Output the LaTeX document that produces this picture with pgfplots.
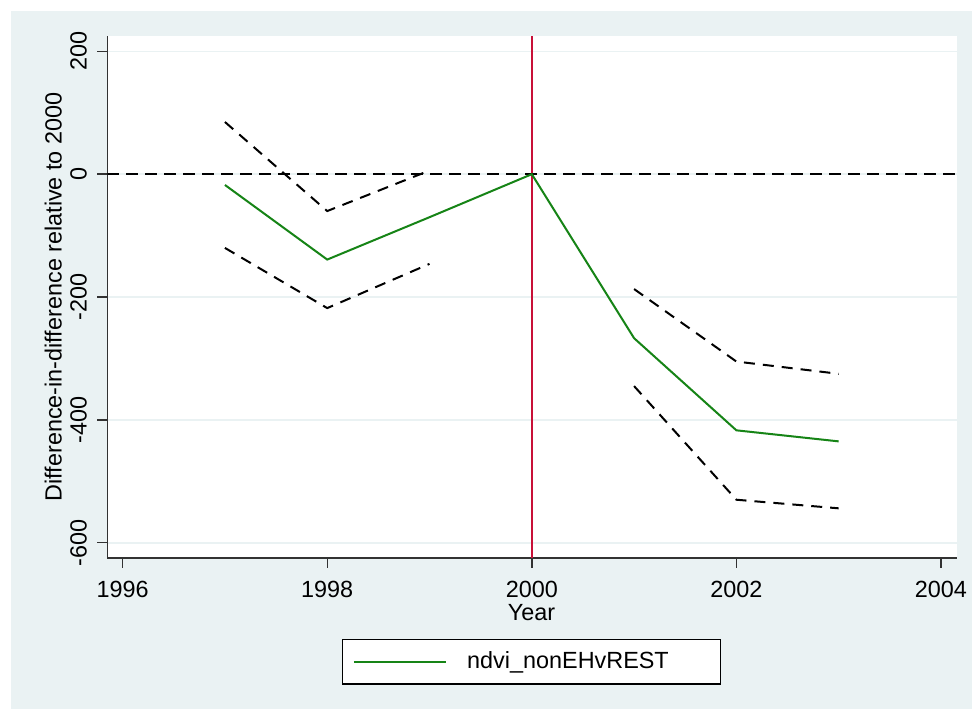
\documentclass[border=0pt]{standalone}
\usepackage{pgfplots}
\pgfplotsset{compat=1.18}
\usepackage{fontspec}
\setmainfont{Liberation Sans}
\definecolor{bgblue}{RGB}{234,242,243}
\definecolor{gridc}{RGB}{234,242,243}
\definecolor{sgreen}{RGB}{22,132,22}
\definecolor{sred}{RGB}{200,16,56}
\definecolor{axc}{RGB}{50,50,50}
\begin{document}
\fontsize{11.7}{14}\selectfont
\begin{tikzpicture}[x=1pt,y=1pt]
\fill[white] (0,0) rectangle (486,354.5);
\fill[bgblue] (5.5,0) rectangle (486,349);
\begin{axis}[
  at={(53.65pt,75.65pt)}, anchor=south west,
  scale only axis, width=424.7pt, height=260.85pt,
  xmin=1995.85, xmax=2004.154, ymin=-624.4, ymax=225,
  axis background/.style={fill=white},
  axis x line*=bottom, axis y line*=left,
  axis line style={axc, line width=0.8pt, -},
  xtick={1996,1998,2000,2002,2004},
  ytick={-600,-400,-200,0,200},
  tick align=outside, major tick length=5pt,
  tick style={axc, line width=0.7pt},
  xtick pos=bottom, ytick pos=left,
  ymajorgrids, grid style={gridc, line width=0.8pt},
  /pgf/number format/1000 sep={},
  /pgf/number format/assume math mode=true,
  tick label style={font=\fontsize{11.7}{14}\selectfont},
  yticklabel style={rotate=90, anchor=south, inner sep=0pt, yshift=5pt},
  xticklabel style={anchor=north, inner sep=0pt, yshift=-6.6pt},
  xlabel={Year},
  xlabel style={at={(axis description cs:0.4994,-0.1194)}, anchor=base, inner sep=0pt, font=\fontsize{11.7}{14}\selectfont},
  ylabel={Difference-in-difference relative to 2000},
  ylabel style={at={(axis description cs:-0.0537,0.5)}, rotate=0, anchor=base, inner sep=0pt, font=\fontsize{11.7}{14}\selectfont},
  legend style={at={(axis description cs:0.4994,-0.1558)}, anchor=north,
    draw=black, line width=0.6pt, fill=white, inner xsep=5pt, inner ysep=4pt,
    font=\fontsize{11.7}{14}\selectfont,
    /tikz/every odd column/.append style={column sep=8pt}},
  legend cell align=left,
  legend image code/.code={\draw[#1, line width=1.2pt] (0pt,0pt) -- (46pt,0pt);},
]
\addplot[sred, line width=1pt, forget plot] coordinates {(2000,-624.4) (2000,225)};
\addplot[black, line width=1pt, dash pattern=on 6pt off 3.5pt, forget plot] coordinates {(1995.85,0) (2004.154,0)};
\addplot[black, line width=1pt, dash pattern=on 5.5pt off 4pt, forget plot] coordinates {(1997,85) (1998,-60) (1999,6)};
\addplot[black, line width=1pt, dash pattern=on 5.5pt off 4pt, forget plot] coordinates {(1997,-120) (1998,-218) (1999,-146)};
\addplot[black, line width=1pt, dash pattern=on 5.5pt off 4pt, forget plot] coordinates {(2001,-187) (2002,-305) (2003,-325)};
\addplot[black, line width=1pt, dash pattern=on 5.5pt off 4pt, forget plot] coordinates {(2001,-345) (2002,-530) (2003,-544)};
\addplot[sgreen, line width=1pt] coordinates {(1997,-17.5) (1998,-139) (1999,-70) (2000,0) (2001,-267) (2002,-417) (2003,-435)};
\addlegendentry{\makebox[119.5pt][l]{ndvi\_nonEHvREST}}
\end{axis}
\end{tikzpicture}
\end{document}
